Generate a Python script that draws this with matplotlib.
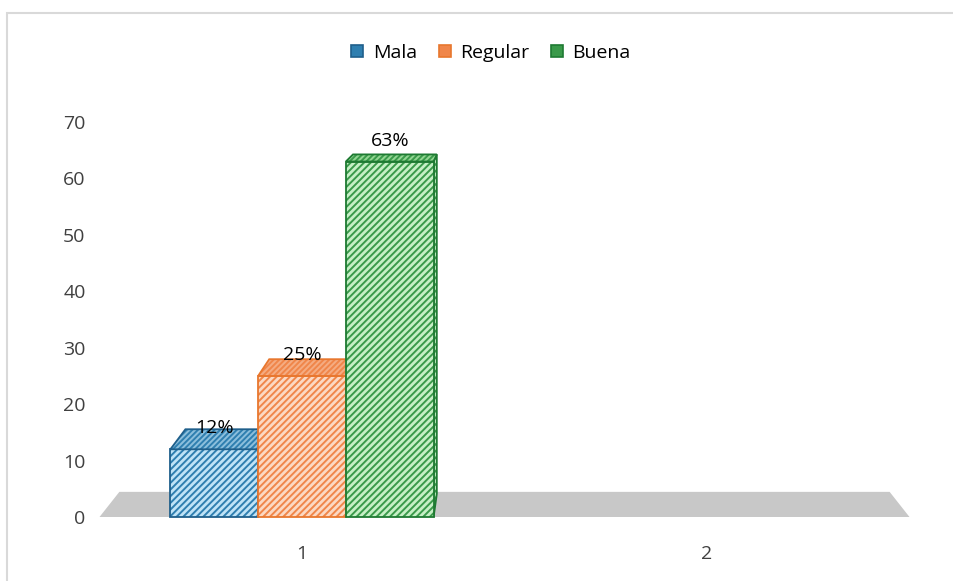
import matplotlib
matplotlib.use('Agg')
import matplotlib.pyplot as plt
from matplotlib.patches import Polygon, Patch, Rectangle
import numpy as np

# chart data
categories = ['1', '2']
series_names = ['Mala', 'Regular', 'Buena']
mala = [12, np.nan]
regular = [25, np.nan]
buena = [63, np.nan]
y_ticks = [0, 10, 20, 30, 40, 50, 60, 70]

# styling: (light fill, stripe colour, edge colour, top fill)
styles = [
    ('#BFE3F7', '#2F7FB0', '#1F5F8B', '#8CBFDC'),
    ('#FCD9C3', '#F0864A', '#E8772E', '#F5AC82'),
    ('#C6F0C6', '#3A9A4A', '#1E7A32', '#93D693'),
]

# fake 3D: points are pushed back toward a vanishing point
VP_X, VP_Y = 1.5, 90.9
K_BAR = 0.045
K_FLOOR = 0.049
GROUP_W = 0.65

plt.rcParams['font.family'] = ['Open Sans', 'DejaVu Sans']
plt.rcParams['hatch.linewidth'] = 1.4


def to_back(x, y, k):
    return x + (VP_X - x) * k, y + (VP_Y - y) * k


def face(ax, pts, fill, stripe, edge, hatch='/////'):
    ax.add_patch(Polygon(pts, closed=True, facecolor=fill, edgecolor='none',
                         clip_on=False))
    ax.add_patch(Polygon(pts, closed=True, facecolor='none', edgecolor=stripe,
                         hatch=hatch, linewidth=0, clip_on=False))
    ax.add_patch(Polygon(pts, closed=True, facecolor='none', edgecolor=edge,
                         linewidth=1.3, clip_on=False))


def bar3d(ax, x0, x1, h, style):
    fill, stripe, edge, top_fill = style
    # right side
    b1 = to_back(x1, 0, K_BAR)
    b2 = to_back(x1, h, K_BAR)
    face(ax, [(x1, 0), b1, b2, (x1, h)], fill, stripe, edge)
    # front
    face(ax, [(x0, 0), (x1, 0), (x1, h), (x0, h)], fill, stripe, edge)
    # top
    face(ax, [(x0, h), (x1, h), to_back(x1, h, K_BAR), to_back(x0, h, K_BAR)],
         top_fill, stripe, edge, hatch='//////')


fig = plt.figure(figsize=(9.54, 5.81), dpi=100)
ax = fig.add_axes([99.5 / 954, 64 / 581, 810 / 954, 395 / 581])
ax.set_xlim(0.5, 2.5)
ax.set_ylim(0, 70)

# floor
x_lo, x_hi = ax.get_xlim()
floor = [(x_lo, 0), (x_hi, 0), to_back(x_hi, 0, K_FLOOR), to_back(x_lo, 0, K_FLOOR)]
ax.add_patch(Polygon(floor, closed=True, facecolor='#C8C8C8', edgecolor='none',
                     clip_on=False))

values = [mala, regular, buena]
bar_w = GROUP_W / len(values)
for i, cat_x in enumerate(range(1, len(categories) + 1)):
    for j, series in enumerate(values):
        v = series[i]
        if np.isnan(v):
            continue
        x0 = cat_x - GROUP_W / 2 + j * bar_w
        bar3d(ax, x0, x0 + bar_w, v, styles[j])
        ax.annotate(f'{v:g}%', (x0 + bar_w / 2, v), xytext=(0, 15),
                    textcoords='offset points', ha='center', va='center',
                    fontsize=14, color='black', annotation_clip=False)

ax.set_yticks(y_ticks)
ax.set_xticks(range(1, len(categories) + 1), categories)
ax.tick_params(axis='y', length=0, pad=10, labelsize=14, labelcolor='#404040')
ax.tick_params(axis='x', length=0, pad=20, labelsize=14, labelcolor='#404040')
for s in ax.spines.values():
    s.set_visible(False)

handles = [Patch(facecolor=st[1], edgecolor=st[2], linewidth=1.2) for st in styles]
fig.legend(handles, series_names, loc='center', bbox_to_anchor=(0.5147, 0.9088),
           ncol=3, frameon=False, fontsize=14, handlelength=0.62,
           handleheight=0.62, handletextpad=0.5, columnspacing=1.1,
           labelcolor='black')

# chart area border
fig.patches.append(Rectangle((7 / 954, -0.05), 1.0, 1 - 13 / 581 + 0.05,
                             transform=fig.transFigure, fill=False,
                             edgecolor='#D9D9D9', linewidth=1.5))

fig.savefig('out.png', dpi=100)
